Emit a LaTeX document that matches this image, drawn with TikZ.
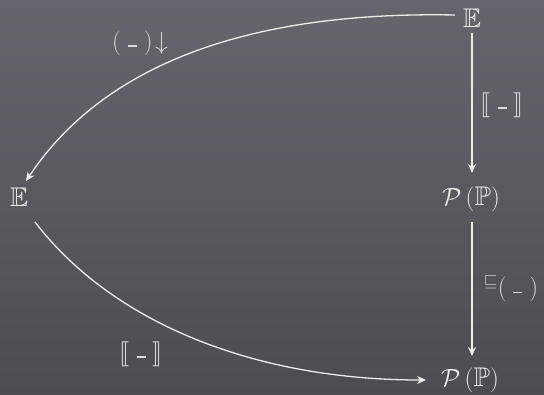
\documentclass[tikz,border=0pt]{standalone}
\usepackage{amssymb}
\usepackage{stmaryrd}
\usetikzlibrary{arrows.meta}
\definecolor{bgtop}{HTML}{65656D}
\definecolor{bgbot}{HTML}{4C4C53}
\definecolor{ink}{HTML}{ECECEC}
\definecolor{lbl}{HTML}{DADADA}
\newcommand{\blankslot}{\rule[0.1em]{0.36em}{0.06em}}
\begin{document}
\begin{tikzpicture}[x=1pt,y=-1pt,
  obj/.style={text=ink, inner sep=1pt, font=\fontsize{27}{30}\selectfont},
  lab/.style={text=lbl, inner sep=1pt, font=\fontsize{25}{29}\selectfont},
  arr/.style={draw=ink, line width=1.3pt, -{Stealth[length=9pt,width=8pt]}}]
\useasboundingbox (0,0) rectangle (544,394);
\shade[top color=bgtop, bottom color=bgbot] (0,0) rectangle (544,394);
\node[obj] (eTop) at (472,18) {$\mathbb{E}$};
\node[obj] (eLeft) at (19,197) {$\mathbb{E}$};
\node[obj] (pMid) at (471,199) {$\mathcal{P}\,(\mathbb{P})$};
\node[obj] (pBot) at (470,380) {$\mathcal{P}\,(\mathbb{P})$};
\coordinate (t1) at (455,15);
\coordinate (t2) at (26,181);
\coordinate (b1) at (35,222);
\coordinate (b2) at (426,380);
\coordinate (v1) at (472,33);
\coordinate (v2) at (472,173);
\coordinate (v3) at (472,222);
\coordinate (v4) at (472,356);
\draw[arr] (t1) .. controls (300,12) and (120,40) .. (t2);
\draw[arr] (b1) .. controls (110,320) and (250,380) .. (b2);
\draw[arr] (v1) -- (v2);
\draw[arr] (v3) -- (v4);
\node[lab] (l1) at (140,43) {$(\;\blankslot\;)\!\downarrow$};
\node[lab] (l2) at (502,105) {$\llbracket\;\blankslot\;\rrbracket$};
\node[lab] (l3) at (511,289) {${}^{\sqsubseteq}(\;\blankslot\;)$};
\node[lab] (l4) at (141,354) {$\llbracket\;\blankslot\;\rrbracket$};
\end{tikzpicture}
\end{document}
